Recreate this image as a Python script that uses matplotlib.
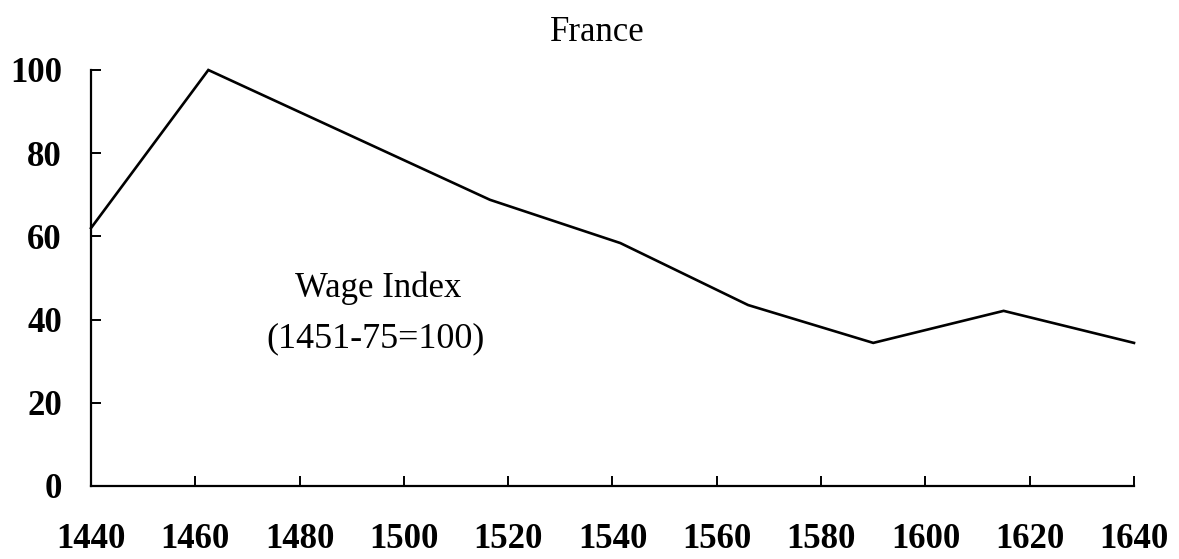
import matplotlib
matplotlib.use("Agg")
import matplotlib.pyplot as plt

years = [1440, 1462.5, 1516.5, 1541.5, 1566, 1590, 1615, 1640]
wage_index = [62, 100, 68.8, 58.4, 43.5, 34.4, 42.1, 34.4]
x_ticks = [1440, 1460, 1480, 1500, 1520, 1540, 1560, 1580, 1600, 1620, 1640]
y_ticks = [0, 20, 40, 60, 80, 100]

plt.rcParams['font.family'] = ['Liberation Serif', 'DejaVu Serif']

fig = plt.figure(figsize=(11.79, 5.59), dpi=100)
ax = fig.add_axes([91/1179, 1-486/559, (1134-91)/1179, (486-70)/559])
ax.plot(years, wage_index, color='black', lw=1.9, solid_joinstyle='miter', clip_on=False)
ax.set_xlim(1440, 1640)
ax.set_ylim(0, 100)
ax.set_xticks(x_ticks)
ax.set_yticks(y_ticks)
for s in ['top', 'right']:
    ax.spines[s].set_visible(False)
for s in ['left', 'bottom']:
    ax.spines[s].set_linewidth(1.6)
ax.tick_params(axis='x', direction='in', length=7, width=1.4, pad=27, labelsize=25)
ax.tick_params(axis='y', direction='in', length=7, width=1.4, pad=21, labelsize=25)
for lab in ax.get_xticklabels() + ax.get_yticklabels():
    lab.set_fontweight('bold')

fig.text(597/1179, 1-41/559, 'France', ha='center', va='baseline', fontsize=25)
ax.text(1495, 45.4, 'Wage Index', ha='center', va='baseline', fontsize=25)
ax.text(1494.5, 33.4, '(1451-75=100)', ha='center', va='baseline', fontsize=26)

fig.savefig('out.png', dpi=100)
